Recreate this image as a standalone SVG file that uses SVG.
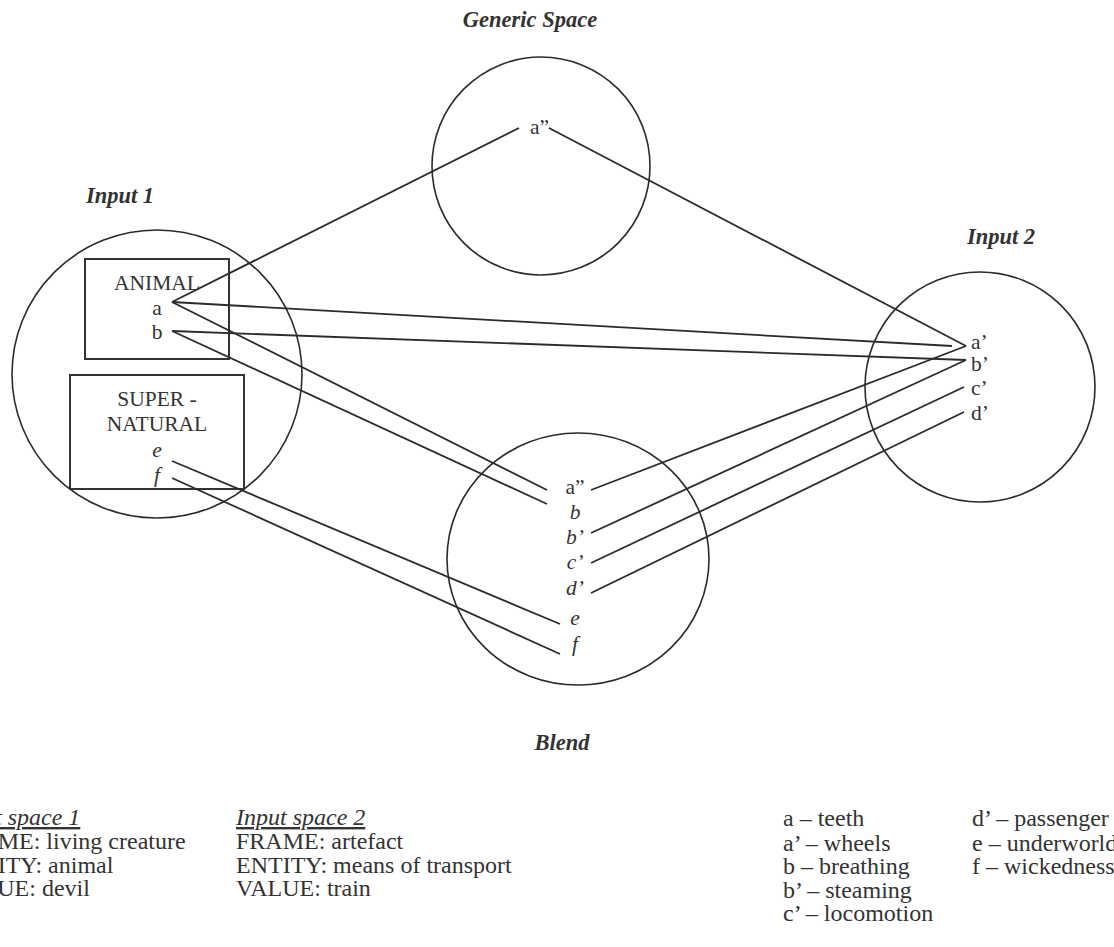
<svg xmlns="http://www.w3.org/2000/svg" width="1114" height="947" viewBox="0 0 1114 947">
  <style>
    .space { fill: none; stroke: #2b2b2b; stroke-width: 1.6; }
    .frame { fill: none; stroke: #333; stroke-width: 2; }
    .link { fill: none; stroke: #2b2b2b; stroke-width: 1.8; }
    text { font-family: "Liberation Serif", "Times New Roman", serif; font-size: 21.5px; fill: #333; }
    .title { font-weight: bold; font-style: italic; font-size: 22.5px; text-anchor: middle; }
    .mid { text-anchor: middle; }
    .it { font-style: italic; }
    .key { font-size: 24px; }
    .ul { font-style: italic; text-decoration: underline; }
  </style>
  <rect width="1114" height="947" fill="#fff"/>

  <g id="generic-space">
    <text class="title" x="530" y="27">Generic Space</text>
    <circle class="space" cx="541" cy="166" r="109"/>
    <text x="530" y="134">a”</text>
  </g>

  <g id="input-1">
    <text class="title" x="120" y="203">Input 1</text>
    <ellipse class="space" cx="157" cy="374" rx="145" ry="144"/>
    <rect class="frame" x="85" y="259" width="144" height="100"/>
    <text class="mid" x="157" y="290">ANIMAL</text>
    <text class="mid" x="157" y="315">a</text>
    <text class="mid" x="157" y="339">b</text>
    <rect class="frame" x="70" y="375" width="174" height="114"/>
    <text class="mid" x="157" y="406">SUPER -</text>
    <text class="mid" x="157" y="431">NATURAL</text>
    <text class="mid it" x="157" y="457">e</text>
    <text class="mid it" x="157" y="482">f</text>
  </g>

  <g id="input-2">
    <text class="title" x="1001" y="244">Input 2</text>
    <circle class="space" cx="980" cy="387" r="115"/>
    <text x="971" y="349">a’</text>
    <text x="971" y="371">b’</text>
    <text x="971" y="395">c’</text>
    <text x="971" y="420">d’</text>
  </g>

  <g id="blend">
    <text class="title" x="562" y="750">Blend</text>
    <ellipse class="space" cx="578" cy="559" rx="131" ry="126"/>
    <text class="mid" x="575" y="494">a”</text>
    <text class="mid it" x="575" y="519">b</text>
    <text class="mid it" x="575" y="544">b’</text>
    <text class="mid it" x="575" y="569">c’</text>
    <text class="mid it" x="575" y="595">d’</text>
    <text class="mid it" x="575" y="625">e</text>
    <text class="mid it" x="575" y="651">f</text>
  </g>

  <g id="connectors">
    <!-- a to generic a'' and on to a' -->
    <line class="link" x1="172" y1="302" x2="519" y2="128"/>
    <line class="link" x1="549" y1="128" x2="966" y2="346"/>
    <!-- input 1 to input 2 -->
    <line class="link" x1="172" y1="302" x2="952" y2="346"/>
    <line class="link" x1="172" y1="331" x2="966" y2="360"/>
    <!-- input 1 to blend -->
    <line class="link" x1="172" y1="302" x2="547" y2="490"/>
    <line class="link" x1="172" y1="331" x2="547" y2="504"/>
    <line class="link" x1="172" y1="461" x2="560" y2="624"/>
    <line class="link" x1="172" y1="478" x2="560" y2="654"/>
    <!-- blend to input 2 -->
    <line class="link" x1="591" y1="490" x2="966" y2="346"/>
    <line class="link" x1="591" y1="533" x2="966" y2="360"/>
    <line class="link" x1="591" y1="563" x2="964" y2="387"/>
    <line class="link" x1="591" y1="593" x2="964" y2="412"/>
  </g>

  <g id="legend-input-1">
    <text class="key ul" x="-49" y="825">Input space 1</text>
    <text class="key" x="-49" y="849">FRAME: living creature</text>
    <text class="key" x="-49" y="873">ENTITY: animal</text>
    <text class="key" x="-49" y="896">VALUE: devil</text>
  </g>

  <g id="legend-input-2">
    <text class="key ul" x="236" y="825">Input space 2</text>
    <text class="key" x="236" y="849">FRAME: artefact</text>
    <text class="key" x="236" y="873">ENTITY: means of transport</text>
    <text class="key" x="236" y="896">VALUE: train</text>
  </g>

  <g id="legend-key">
    <text class="key" x="783" y="826">a – teeth</text>
    <text class="key" x="783" y="851">a’ – wheels</text>
    <text class="key" x="783" y="874">b – breathing</text>
    <text class="key" x="783" y="898">b’ – steaming</text>
    <text class="key" x="783" y="921">c’ – locomotion</text>
    <text class="key" x="972" y="826">d’ – passenger</text>
    <text class="key" x="972" y="851">e – underworld</text>
    <text class="key" x="972" y="874">f – wickedness</text>
  </g>
</svg>
